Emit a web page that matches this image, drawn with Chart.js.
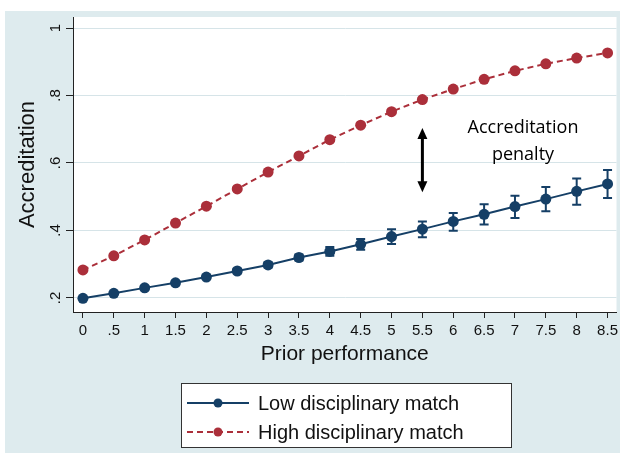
<!DOCTYPE html>
<html>
<head>
<meta charset="utf-8">
<script src="https://cdn.jsdelivr.net/npm/chart.js@4"></script>
<style>
  html, body { margin: 0; padding: 0; background: #fff; }
  #wrap { width: 622px; height: 455px; }
</style>
</head>
<body>
<div id="wrap"><canvas id="chart" width="622" height="455"></canvas></div>
<script>
// values
const priorPerf = [0, 0.5, 1, 1.5, 2, 2.5, 3, 3.5, 4, 4.5, 5, 5.5, 6, 6.5, 7, 7.5, 8, 8.5];
const lowMatch = [0.199, 0.214, 0.230, 0.245, 0.262, 0.280, 0.298, 0.320, 0.338, 0.359, 0.382, 0.404, 0.427, 0.448, 0.471, 0.493, 0.516, 0.538];
const lowCiUpper = [0.202, 0.218, 0.235, 0.250, 0.268, 0.287, 0.306, 0.329, 0.351, 0.375, 0.404, 0.427, 0.452, 0.478, 0.503, 0.529, 0.554, 0.579];
const lowCiLower = [0.196, 0.210, 0.225, 0.240, 0.256, 0.273, 0.290, 0.311, 0.325, 0.343, 0.360, 0.380, 0.399, 0.418, 0.437, 0.457, 0.476, 0.496];
const highMatch = [0.283, 0.325, 0.372, 0.422, 0.472, 0.523, 0.573, 0.621, 0.669, 0.712, 0.752, 0.788, 0.819, 0.848, 0.873, 0.894, 0.911, 0.926];

const xTicks = [0, 0.5, 1, 1.5, 2, 2.5, 3, 3.5, 4, 4.5, 5, 5.5, 6, 6.5, 7, 7.5, 8, 8.5];
const xTickLabels = ['0', '.5', '1', '1.5', '2', '2.5', '3', '3.5', '4', '4.5', '5', '5.5', '6', '6.5', '7', '7.5', '8', '8.5'];
const yTicks = [0.2, 0.4, 0.6, 0.8, 1];
const yTickLabels = ['.2', '.4', '.6', '.8', '1'];

const seriesNames = ['Low disciplinary match', 'High disciplinary match'];
const annotationLines = ['Accreditation', 'penalty'];
const annotationAt = { x: 7.13, y: [0.705, 0.625] };
const arrowX = 5.5;
const arrowY = [0.704, 0.513];

const BLUE = '#153f66';
const RED = '#ab2f3a';
const BG = '#deebee';
const GRID = '#d6e4e8';
const INK = '#111';

const background = {
    id: 'background',
    beforeDraw(chart) {
        const { ctx, chartArea: a } = chart;
        ctx.save();
        ctx.fillStyle = '#fff';
        ctx.fillRect(0, 0, chart.width, chart.height);
        ctx.fillStyle = BG;
        ctx.fillRect(5, 11, 615, 442);
        ctx.fillStyle = '#fff';
        ctx.fillRect(a.left, a.top, a.right - a.left, a.bottom - a.top);
        ctx.restore();
    }
};

// confidence intervals of the low match series
const errorBars = {
    id: 'errorBars',
    beforeDatasetsDraw(chart) {
        const { ctx, scales: { x, y } } = chart;
        ctx.save();
        ctx.strokeStyle = BLUE;
        ctx.lineWidth = 2;
        priorPerf.forEach((v, i) => {
            const px = x.getPixelForValue(v);
            const top = y.getPixelForValue(lowCiUpper[i]);
            const bot = y.getPixelForValue(lowCiLower[i]);
            ctx.beginPath();
            ctx.moveTo(px, top); ctx.lineTo(px, bot);
            ctx.moveTo(px - 4.5, top); ctx.lineTo(px + 4.5, top);
            ctx.moveTo(px - 4.5, bot); ctx.lineTo(px + 4.5, bot);
            ctx.stroke();
        });
        ctx.restore();
    }
};

const annotation = {
    id: 'annotation',
    afterDatasetsDraw(chart) {
        const { ctx, scales: { x, y } } = chart;
        ctx.save();
        // double headed arrow
        const ax = x.getPixelForValue(arrowX);
        const y1 = y.getPixelForValue(arrowY[0]);
        const y2 = y.getPixelForValue(arrowY[1]);
        ctx.strokeStyle = '#000';
        ctx.fillStyle = '#000';
        ctx.lineWidth = 3;
        ctx.beginPath();
        ctx.moveTo(ax, y1 + 8); ctx.lineTo(ax, y2 - 8);
        ctx.stroke();
        ctx.beginPath();
        ctx.moveTo(ax, y1); ctx.lineTo(ax - 5, y1 + 11); ctx.lineTo(ax + 5, y1 + 11); ctx.closePath();
        ctx.fill();
        ctx.beginPath();
        ctx.moveTo(ax, y2); ctx.lineTo(ax - 5, y2 - 11); ctx.lineTo(ax + 5, y2 - 11); ctx.closePath();
        ctx.fill();

        ctx.font = '18px "Open Sans", sans-serif';
        ctx.textAlign = 'center';
        ctx.textBaseline = 'middle';
        const tx = x.getPixelForValue(annotationAt.x);
        annotationLines.forEach((t, i) => ctx.fillText(t, tx, y.getPixelForValue(annotationAt.y[i])));
        ctx.restore();
    }
};

const legendBox = {
    id: 'legendBox',
    afterDraw(chart) {
        const { ctx } = chart;
        ctx.save();
        ctx.fillStyle = '#fff';
        ctx.fillRect(181, 383, 331, 65);
        ctx.strokeStyle = '#333';
        ctx.lineWidth = 1;
        ctx.strokeRect(181.5, 383.5, 330, 64);
        const rows = [403, 432];
        chart.data.datasets.forEach((ds, i) => {
            const ry = rows[i];
            ctx.strokeStyle = ds.borderColor;
            ctx.lineWidth = 2;
            ctx.setLineDash(ds.borderDash || []);
            ctx.beginPath();
            ctx.moveTo(187, ry); ctx.lineTo(249, ry);
            ctx.stroke();
            ctx.setLineDash([]);
            ctx.fillStyle = ds.borderColor;
            ctx.beginPath();
            ctx.arc(218, ry, 4.5, 0, Math.PI * 2);
            ctx.fill();
            ctx.fillStyle = INK;
            ctx.font = '20px "Liberation Sans", Arial, sans-serif';
            ctx.textAlign = 'left';
            ctx.textBaseline = 'middle';
            ctx.fillText(ds.label, 258, ry + 1);
        });
        ctx.restore();
    }
};

const tickFont = { family: '"Liberation Sans", Arial, sans-serif', size: 15 };

new Chart(document.getElementById('chart'), {
    type: 'line',
    data: {
        datasets: [
            {
                label: seriesNames[0],
                data: priorPerf.map((v, i) => ({ x: v, y: lowMatch[i] })),
                borderColor: BLUE,
                backgroundColor: BLUE,
                borderWidth: 2,
                pointRadius: 5.5,
                pointBorderWidth: 0,
                pointBackgroundColor: BLUE,
                tension: 0
            },
            {
                label: seriesNames[1],
                data: priorPerf.map((v, i) => ({ x: v, y: highMatch[i] })),
                borderColor: RED,
                backgroundColor: RED,
                borderWidth: 2,
                borderDash: [6, 4],
                pointRadius: 5.5,
                pointBorderWidth: 0,
                pointBackgroundColor: RED,
                tension: 0
            }
        ]
    },
    options: {
        responsive: false,
        animation: false,
        devicePixelRatio: 1,
        layout: { padding: { left: 5, top: 17, right: 3, bottom: 85 } },
        plugins: {
            legend: { display: false },
            tooltip: { enabled: false }
        },
        scales: {
            x: {
                type: 'linear',
                min: -0.161,
                max: 8.645,
                afterBuildTicks: s => { s.ticks = xTicks.map(v => ({ value: v })); },
                afterFit: s => { s.height = 58; s.paddingLeft = 0; s.paddingRight = 0; },
                ticks: {
                    font: tickFont,
                    color: INK,
                    padding: 4,
                    maxRotation: 0,
                    minRotation: 0,
                    autoSkip: false,
                    callback: (v, i) => xTickLabels[i]
                },
                grid: { color: 'rgba(0,0,0,0)', tickColor: '#222', tickLength: 6, drawTicks: true },
                border: { display: true, color: '#222', width: 1 },
                title: {
                    display: true,
                    text: 'Prior performance',
                    color: INK,
                    font: { family: '"Liberation Sans", Arial, sans-serif', size: 21 },
                    padding: { top: 0, bottom: 3 }
                }
            },
            y: {
                min: 0.1585,
                max: 1.0326,
                afterBuildTicks: s => { s.ticks = yTicks.map(v => ({ value: v })); },
                afterFit: s => { s.width = 68; s.paddingTop = 0; s.paddingBottom = 0; },
                ticks: {
                    font: tickFont,
                    color: INK,
                    padding: 4,
                    minRotation: 90,
                    maxRotation: 90,
                    crossAlign: 'center',
                    callback: (v, i) => yTickLabels[i]
                },
                grid: { color: GRID, lineWidth: 1, tickColor: '#222', tickLength: 7 },
                border: { display: true, color: '#222', width: 1 },
                title: {
                    display: true,
                    text: 'Accreditation',
                    color: INK,
                    font: { family: '"Liberation Sans", Arial, sans-serif', size: 22 },
                    padding: { top: 10, bottom: 0 }
                }
            }
        }
    },
    plugins: [background, errorBars, annotation, legendBox]
});
</script>
</body>
</html>
